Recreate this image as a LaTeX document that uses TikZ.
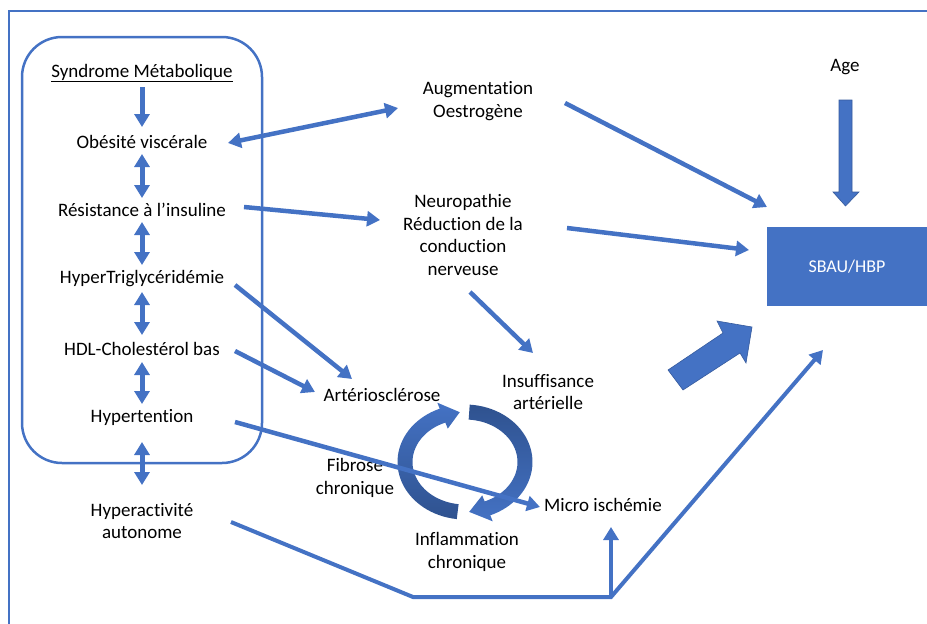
\documentclass[tikz,border=0pt]{standalone}
\usepackage{fontspec}
\setmainfont{Carlito}[Ligatures=CommonOff]
\usetikzlibrary{arrows.meta}
\definecolor{bl}{HTML}{4472C4}
\definecolor{dbl}{HTML}{2F528F}
\begin{document}
\begin{tikzpicture}[x=1pt,y=-1pt,
 txt/.style={align=center, font=\fontsize{19}{22.7}\selectfont, inner sep=0pt},
 conn/.style={draw=bl, line width=4.5pt, -{Triangle[length=13pt,width=15pt]}},
 dconn/.style={draw=bl, line width=5pt, {Triangle[length=13pt,width=15pt]}-{Triangle[length=13pt,width=15pt]}},
 blockfill/.style={fill=bl, draw=bl!80!black, line width=0.6pt},
]
\useasboundingbox (0,0) rectangle (927,624);
% outer frame
\draw[bl, line width=1.5pt] (9,630) -- (9,11) -- (935,11);
% metabolic box
\node[draw=bl, line width=2.5pt, rounded corners=40pt, minimum width=240pt, minimum height=426pt, inner sep=0pt] (metabox) at (142,250) {};

% texts
\node[txt] (synd) at (142,73) {\underline{Syndrome Métabolique}};
\node[txt] (obes) at (142,142) {Obésité viscérale};
\node[txt] (resi) at (142,210) {Résistance à l’insuline};
\node[txt] (hypt) at (142,279) {HyperTriglycéridémie};
\node[txt] (hdl) at (142,349) {HDL-Cholestérol bas};
\node[txt] (hten) at (142,417) {Hypertention};
\node[txt] (hact) at (142,521) {Hyperactivité\\autonome};
\node[txt] (augm) at (478,101) {Augmentation\\Oestrogène};
\node[txt] (neur) at (463,235) {Neuropathie\\Réduction de la\\conduction\\nerveuse};
\node[txt] (age) at (845,67) {Age};
\node[fill=bl, minimum width=160pt, minimum height=79pt, inner sep=0pt, text=white, font=\fontsize{18}{20}\selectfont] (sbau) at (847,266.5) {SBAU/HBP};
\node[txt] (arte) at (382,395) {Artériosclérose};
\node[txt] (insu) at (548,392) {Insuffisance\\artérielle};
\node[txt] (fibr) at (355,478) {Fibrose\\chronique};
\node[txt] (micr) at (603,505) {Micro ischémie};
\node[txt] (infl) at (467,552) {Inflammation\\chronique};

% connector end points
\coordinate (s1) at (142,87);   \coordinate (s2) at (142,127);
\coordinate (v1a) at (142,154); \coordinate (v1b) at (142,198);
\coordinate (v2a) at (142,222); \coordinate (v2b) at (142,265);
\coordinate (v3a) at (142,292); \coordinate (v3b) at (142,335);
\coordinate (v4a) at (142,362); \coordinate (v4b) at (142,404);
\coordinate (v5a) at (142,442); \coordinate (v5b) at (142,485);
\coordinate (oa1) at (228,143); \coordinate (oa2) at (398,108);
\coordinate (rn1) at (244,207); \coordinate (rn2) at (380,220);
\coordinate (ha1) at (235,285); \coordinate (ha2) at (352,379);
\coordinate (da1) at (235,351); \coordinate (da2) at (315,392);
\coordinate (ni1) at (470,292); \coordinate (ni2) at (533,353);
\coordinate (hm1) at (235,422); \coordinate (hm2) at (540,507);
\coordinate (as1) at (565,103); \coordinate (as2) at (767,207);
\coordinate (ns1) at (567,228); \coordinate (ns2) at (749,250);
\coordinate (ha) at (231,522);  \coordinate (hb) at (413,597);
\coordinate (hc) at (611,597);  \coordinate (hd) at (823,350);
\coordinate (he) at (611,527);

% vertical arrows in box
\draw[conn, line width=5pt] (s1) -- (s2);
\draw[dconn] (v1a) -- (v1b);
\draw[dconn] (v2a) -- (v2b);
\draw[dconn] (v3a) -- (v3b);
\draw[dconn] (v4a) -- (v4b);
\draw[dconn] (v5a) -- (v5b);

% cycle arrows
\shade[top color=bl, bottom color=dbl]
  plot[domain=97:248, samples=40] ({465+67.5*cos(\x)}, {462+57.5*sin(\x)})
  -- ({465+74*cos(248)}, {462+64*sin(248)})
  -- ({465+60*cos(265)}, {462+50*sin(265)})
  -- ({465+46*cos(248)}, {462+36*sin(248)})
  -- plot[domain=248:97, samples=40] ({465+52.5*cos(\x)}, {462+42.5*sin(\x)})
  -- cycle;
\shade[top color=dbl, bottom color=bl]
  plot[domain=274:428, samples=40] ({465+67.5*cos(\x)}, {462+57.5*sin(\x)})
  -- ({465+74*cos(428)}, {462+64*sin(428)})
  -- ({465+60*cos(446)}, {462+50*sin(446)})
  -- ({465+46*cos(428)}, {462+36*sin(428)})
  -- plot[domain=428:274, samples=40] ({465+52.5*cos(\x)}, {462+42.5*sin(\x)})
  -- cycle;

% diagonal connectors
\draw[dconn, line width=4.5pt] (oa1) -- (oa2);
\draw[conn] (rn1) -- (rn2);
\draw[conn] (ha1) -- (ha2);
\draw[conn] (da1) -- (da2);
\draw[conn] (ni1) -- (ni2);
\draw[conn] (hm1) -- (hm2);
\draw[conn] (as1) -- (as2);
\draw[conn] (ns1) -- (ns2);
\draw[conn, line width=4pt] (ha) -- (hb) -- (hc) -- (hd);
\draw[conn, line width=4pt] (hc) -- (he);

% block arrows
\fill[blockfill] (839,100) -- (852,100) -- (852,192) -- (859,192) -- (845.5,206) -- (833,192) -- (839,192) -- cycle;
\fill[blockfill] (668,370) -- (723,333) -- (717,321) -- (752,327) -- (746,363) -- (740,353) -- (683,390) -- cycle;
\end{tikzpicture}
\end{document}
